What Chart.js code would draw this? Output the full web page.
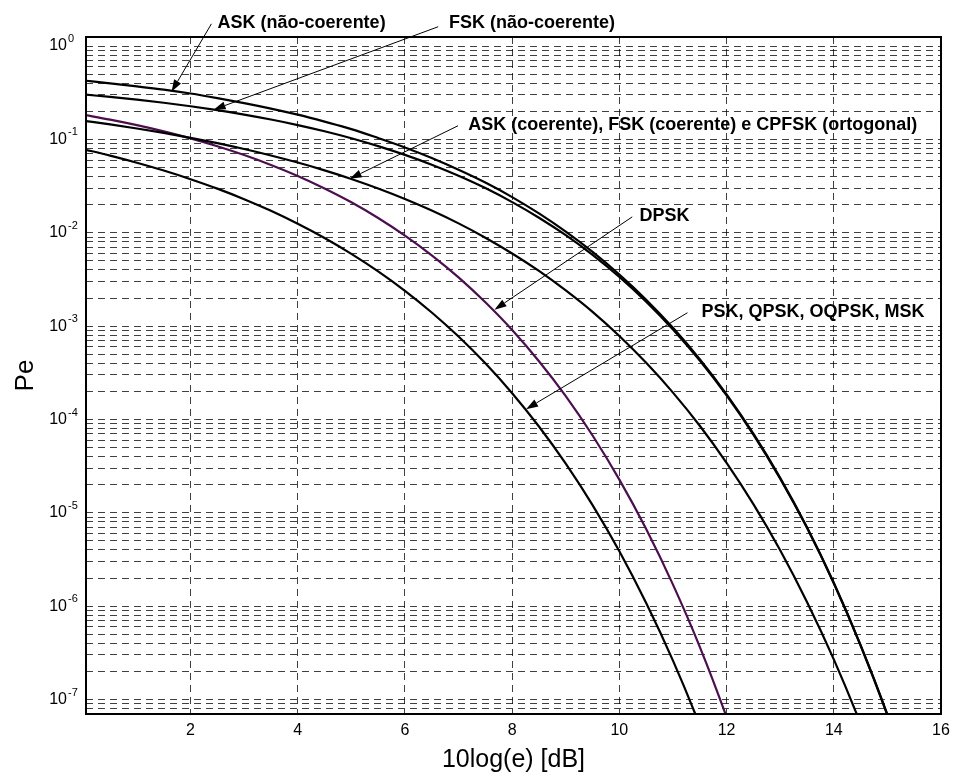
<!DOCTYPE html>
<html>
<head>
<meta charset="utf-8">
<title>Pe x 10log(e)</title>
<script src="https://cdn.jsdelivr.net/npm/chart.js@4.4.1/dist/chart.umd.min.js"></script>
<style>
    html, body { margin: 0; padding: 0; background: #fff; }
</style>
</head>
<body>
<canvas id="graficoPe" width="953" height="774"></canvas>
<script>
// eixo x: 10log(e) em dB
const snrDb = [0, 0.5, 1, 1.5, 2, 2.5, 3, 3.5, 4, 4.5, 5, 5.5, 6, 6.5, 7, 7.5,
    8, 8.5, 9, 9.5, 10, 10.5, 11, 11.5, 12, 12.5, 13, 13.5, 14, 14.5, 15, 15.5];

// curvas (Pe)
const peAskNaoCoerente = [0.428, 0.399, 0.370, 0.341, 0.310, 0.277, 0.245, 0.214, 0.184, 0.155,
    0.129, 0.1035, 0.0820, 0.0632, 0.0473, 0.0345, 0.0241, 0.0161, 0.01027, 0.00624,
    0.00357, 0.00192, 9.59e-4, 4.43e-4, 1.86e-4, 7.04e-5, 2.37e-5, 7.0e-6, 1.78e-6, 3.83e-7,
    6.9e-8, 1.0e-8];
const peFskNaoCoerente = [0.3033, 0.2853, 0.2665, 0.2468, 0.2264, 0.2055, 0.1844, 0.1632, 0.1424, 0.1222,
    0.1029, 0.0848, 0.0683, 0.0536, 0.0408, 0.0301, 0.0213, 0.0145, 0.00942, 0.0058,
    0.00337, 0.00183, 9.22e-4, 4.28e-4, 1.81e-4, 6.87e-5, 2.32e-5, 6.9e-6, 1.76e-6, 3.79e-7,
    6.8e-8, 9.9e-9];
const peCoerente = [0.1587, 0.1447, 0.1309, 0.1173, 0.1040, 0.0912, 0.0789, 0.0673, 0.0565, 0.0466,
    0.0377, 0.0298, 0.0230, 0.0173, 0.0126, 0.00886, 0.0060, 0.0039, 0.00241, 0.00142,
    7.83e-4, 4.04e-4, 1.94e-4, 8.56e-5, 3.43e-5, 1.24e-5, 3.97e-6, 1.11e-6, 2.69e-7, 5.5e-8,
    9.4e-9];
const peDpsk = [0.1839, 0.1628, 0.1420, 0.1218, 0.1025, 0.0845, 0.0680, 0.0533, 0.0406, 0.0298,
    0.0212, 0.0144, 0.00933, 0.00574, 0.00333, 0.0018, 9.09e-4, 4.21e-4, 1.78e-4, 6.73e-5,
    2.27e-5, 6.7e-6, 1.7e-6, 3.67e-7, 6.5e-8, 9.5e-9];
const pePsk = [0.0786, 0.0671, 0.0563, 0.0464, 0.0375, 0.0297, 0.0229, 0.0172, 0.0125, 0.0088,
    0.00595, 0.00386, 0.00239, 0.0014, 7.73e-4, 3.99e-4, 1.91e-4, 8.4e-5, 3.36e-5, 1.21e-5,
    3.87e-6, 1.08e-6, 2.61e-7, 5.3e-8, 9e-9];

// marcas dos eixos
const rotulosX = [2, 4, 6, 8, 10, 12, 14, 16];
const expoentesY = [-7, -6, -5, -4, -3, -2, -1, 0];
const decadasY = [-8, -7, -6, -5, -4, -3, -2, -1, 0];
const mantissasY = [1, 2, 3, 4, 5, 6, 7, 8, 9];

const limiteX = [0.05, 16];
const limiteY = [7e-8, 1.25];

// textos com setas (coordenadas em dB / Pe)
const anotacoes = [
    { texto: 'ASK (não-coerente)', pos: [2.505, 1.78], de: [2.39, 1.73], para: [1.645, 0.324] },
    { texto: 'FSK (não-coerente)', pos: [6.82, 1.78], de: [6.62, 1.61], para: [2.43, 0.208] },
    { texto: 'ASK (coerente), FSK (coerente) e CPFSK (ortogonal)', pos: [7.18, 0.1434], de: [6.99, 0.140], para: [4.97, 0.0378] },
    { texto: 'DPSK', pos: [10.374, 0.0152], de: [10.24, 0.0148], para: [7.67, 1.5e-3] },
    { texto: 'PSK, QPSK, OQPSK, MSK', pos: [11.53, 1.42e-3], de: [11.27, 1.39e-3], para: [8.26, 1.29e-4] }
];

const fonte = "'Liberation Sans', Arial, Helvetica, sans-serif";
const corGrade = 'rgba(0, 0, 0, 0.75)';

Chart.defaults.font.family = fonte;
Chart.defaults.color = '#000';

function pontos(valores) {
    return valores.map(function (v, i) {
        return { x: snrDb[i], y: v };
    });
}

const linhasY = decadasY.flatMap(function (d) {
    return mantissasY.map(function (m) { return m * Math.pow(10, d); });
}).filter(function (v) { return v >= limiteY[0] && v <= limiteY[1] * 1.0001; });

function desenhaSeta(ctx, x1, y1, x2, y2) {
    const ang = Math.atan2(y2 - y1, x2 - x1);
    const tam = 12, larg = 4;
    const bx = x2 - tam * Math.cos(ang), by = y2 - tam * Math.sin(ang);
    ctx.beginPath();
    ctx.moveTo(x1, y1);
    ctx.lineTo(bx, by);
    ctx.stroke();
    ctx.beginPath();
    ctx.moveTo(x2, y2);
    ctx.lineTo(bx + larg * Math.sin(ang), by - larg * Math.cos(ang));
    ctx.lineTo(bx - larg * Math.sin(ang), by + larg * Math.cos(ang));
    ctx.closePath();
    ctx.fill();
}

// caixa em volta da área, rótulos 10^n e anotações
const extras = {
    id: 'extras',
    afterDatasetsDraw(chart) {
        const { ctx, chartArea } = chart;
        ctx.save();
        ctx.strokeStyle = '#000';
        ctx.lineWidth = 2;
        ctx.strokeRect(chartArea.left, chartArea.top, chartArea.right - chartArea.left, chartArea.bottom - chartArea.top);
        ctx.restore();
    },
    afterDraw(chart) {
        const { ctx, chartArea, scales } = chart;
        ctx.save();
        ctx.fillStyle = '#000';
        ctx.strokeStyle = '#000';

        expoentesY.forEach(function (exp) {
            const py = scales.y.getPixelForValue(Math.pow(10, exp));
            ctx.font = '16px ' + fonte;
            ctx.textAlign = 'right';
            ctx.textBaseline = 'middle';
            ctx.fillText('10', chartArea.left - 19, py);
            ctx.font = '11px ' + fonte;
            ctx.textAlign = 'left';
            ctx.fillText(String(exp), chartArea.left - 18, py - 7);
        });

        ctx.lineWidth = 1;
        anotacoes.forEach(function (a) {
            const x1 = scales.x.getPixelForValue(a.de[0]);
            const y1 = scales.y.getPixelForValue(a.de[1]);
            const x2 = scales.x.getPixelForValue(a.para[0]);
            const y2 = scales.y.getPixelForValue(a.para[1]);
            desenhaSeta(ctx, x1, y1, x2, y2);
            ctx.font = 'bold 18px ' + fonte;
            ctx.textAlign = 'left';
            ctx.textBaseline = 'middle';
            ctx.fillText(a.texto, scales.x.getPixelForValue(a.pos[0]), scales.y.getPixelForValue(a.pos[1]));
        });
        ctx.restore();
    }
};

function linha(valores, cor) {
    return {
        data: pontos(valores),
        borderColor: cor,
        borderWidth: 2.2,
        pointRadius: 0,
        fill: false,
        cubicInterpolationMode: 'monotone'
    };
}

const ctx = document.getElementById('graficoPe').getContext('2d');
new Chart(ctx, {
    type: 'line',
    data: {
        datasets: [
            linha(peAskNaoCoerente, '#000'),
            linha(peFskNaoCoerente, '#000'),
            linha(peCoerente, '#000'),
            linha(peDpsk, '#4b0f4f'),
            linha(pePsk, '#000')
        ]
    },
    options: {
        responsive: false,
        animation: false,
        layout: { padding: { top: 37, right: 12, left: 0, bottom: 0 } },
        plugins: {
            legend: { display: false },
            tooltip: { enabled: false }
        },
        scales: {
            x: {
                type: 'linear',
                min: limiteX[0],
                max: limiteX[1],
                afterBuildTicks: function (scale) {
                    scale.ticks = rotulosX.map(function (v) { return { value: v }; });
                },
                afterFit: function (scale) {
                    scale.height = 60;
                    scale.paddingLeft = 0;
                    scale.paddingRight = 0;
                },
                ticks: { font: { size: 16 }, padding: 7, maxRotation: 0, autoSkip: false },
                grid: { color: corGrade, lineWidth: 1, drawTicks: false },
                border: { display: false, dash: [7, 5] },
                title: {
                    display: true,
                    text: '10log(e) [dB]',
                    font: { size: 25, lineHeight: 1.1 },
                    padding: { top: 0, bottom: 0 }
                }
            },
            y: {
                type: 'logarithmic',
                min: limiteY[0],
                max: limiteY[1],
                afterBuildTicks: function (scale) {
                    scale.ticks = linhasY.map(function (v) { return { value: v }; });
                },
                afterFit: function (scale) { scale.width = 86; },
                ticks: { display: false, autoSkip: false },
                grid: { color: corGrade, lineWidth: 1, drawTicks: false },
                border: { display: false, dash: [7, 5] },
                title: {
                    display: true,
                    text: 'Pe',
                    font: { size: 26 },
                    padding: { top: 10, bottom: 0 }
                }
            }
        }
    },
    plugins: [extras]
});
</script>
</body>
</html>
